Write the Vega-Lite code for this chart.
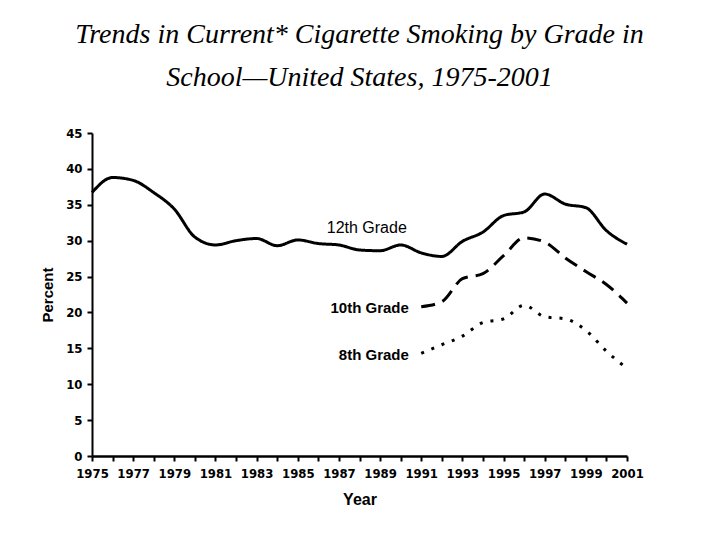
{
  "$schema": "https://vega.github.io/schema/vega-lite/v6.json",
  "autosize": "none",
  "width": 535,
  "height": 323,
  "padding": {"left": 92, "top": 133, "right": 93, "bottom": 84},
  "background": "white",
  "config": {"view": {"stroke": null}},
  "title": {
    "text": ["Trends in Current* Cigarette Smoking by Grade in", "School\u2014United States, 1975-2001"],
    "font": "Liberation Serif",
    "fontStyle": "italic",
    "fontWeight": "normal",
    "fontSize": 28,
    "lineHeight": 43,
    "color": "black",
    "anchor": "middle",
    "offset": 35
  },
  "datasets": {
    "smoking": [
      {"year": 1975, "grade": "12th Grade", "pct": 36.7},
      {"year": 1976, "grade": "12th Grade", "pct": 38.8},
      {"year": 1977, "grade": "12th Grade", "pct": 38.4},
      {"year": 1978, "grade": "12th Grade", "pct": 36.7},
      {"year": 1979, "grade": "12th Grade", "pct": 34.4},
      {"year": 1980, "grade": "12th Grade", "pct": 30.5},
      {"year": 1981, "grade": "12th Grade", "pct": 29.4},
      {"year": 1982, "grade": "12th Grade", "pct": 30.0},
      {"year": 1983, "grade": "12th Grade", "pct": 30.3},
      {"year": 1984, "grade": "12th Grade", "pct": 29.3},
      {"year": 1985, "grade": "12th Grade", "pct": 30.1},
      {"year": 1986, "grade": "12th Grade", "pct": 29.6},
      {"year": 1987, "grade": "12th Grade", "pct": 29.4},
      {"year": 1988, "grade": "12th Grade", "pct": 28.7},
      {"year": 1989, "grade": "12th Grade", "pct": 28.6},
      {"year": 1990, "grade": "12th Grade", "pct": 29.4},
      {"year": 1991, "grade": "12th Grade", "pct": 28.3},
      {"year": 1992, "grade": "12th Grade", "pct": 27.8},
      {"year": 1993, "grade": "12th Grade", "pct": 29.9},
      {"year": 1994, "grade": "12th Grade", "pct": 31.2},
      {"year": 1995, "grade": "12th Grade", "pct": 33.5},
      {"year": 1996, "grade": "12th Grade", "pct": 34.0},
      {"year": 1997, "grade": "12th Grade", "pct": 36.5},
      {"year": 1998, "grade": "12th Grade", "pct": 35.1},
      {"year": 1999, "grade": "12th Grade", "pct": 34.6},
      {"year": 2000, "grade": "12th Grade", "pct": 31.4},
      {"year": 2001, "grade": "12th Grade", "pct": 29.5},
      {"year": 1991, "grade": "10th Grade", "pct": 20.8},
      {"year": 1992, "grade": "10th Grade", "pct": 21.5},
      {"year": 1993, "grade": "10th Grade", "pct": 24.7},
      {"year": 1994, "grade": "10th Grade", "pct": 25.4},
      {"year": 1995, "grade": "10th Grade", "pct": 27.9},
      {"year": 1996, "grade": "10th Grade", "pct": 30.4},
      {"year": 1997, "grade": "10th Grade", "pct": 29.8},
      {"year": 1998, "grade": "10th Grade", "pct": 27.6},
      {"year": 1999, "grade": "10th Grade", "pct": 25.7},
      {"year": 2000, "grade": "10th Grade", "pct": 23.9},
      {"year": 2001, "grade": "10th Grade", "pct": 21.3},
      {"year": 1991, "grade": "8th Grade", "pct": 14.3},
      {"year": 1992, "grade": "8th Grade", "pct": 15.5},
      {"year": 1993, "grade": "8th Grade", "pct": 16.7},
      {"year": 1994, "grade": "8th Grade", "pct": 18.6},
      {"year": 1995, "grade": "8th Grade", "pct": 19.1},
      {"year": 1996, "grade": "8th Grade", "pct": 21.0},
      {"year": 1997, "grade": "8th Grade", "pct": 19.4},
      {"year": 1998, "grade": "8th Grade", "pct": 19.1},
      {"year": 1999, "grade": "8th Grade", "pct": 17.5},
      {"year": 2000, "grade": "8th Grade", "pct": 14.6},
      {"year": 2001, "grade": "8th Grade", "pct": 12.2}
    ],
    "labels": [
      {"grade": "12th Grade", "year": 1990.3, "pct": 31.7},
      {"grade": "10th Grade", "year": 1990.4, "pct": 20.6},
      {"grade": "8th Grade", "year": 1990.4, "pct": 14.1}
    ]
  },
  "encoding": {
    "x": {
      "field": "year", "type": "quantitative",
      "scale": {"domain": [1975, 2001], "nice": false, "zero": false},
      "axis": {
        "title": "Year",
        "values": [1975,1976,1977,1978,1979,1980,1981,1982,1983,1984,1985,1986,1987,1988,1989,1990,1991,1992,1993,1994,1995,1996,1997,1998,1999,2000,2001],
        "labelExpr": "datum.value % 2 == 1 ? datum.label : ''",
        "format": "d",
        "grid": false,
        "domainColor": "black", "domainWidth": 2.5,
        "tickColor": "black", "tickWidth": 2, "tickSize": 5,
        "labelFont": "DejaVu Sans Condensed, Liberation Sans", "labelFontWeight": "bold", "labelFontSize": 13, "labelColor": "black",
        "labelPadding": 6, "labelOverlap": false, "labelFlush": false,
        "titleFont": "Liberation Sans", "titleFontWeight": "bold", "titleFontSize": 16, "titleColor": "black",
        "titlePadding": 11
      }
    },
    "y": {
      "field": "pct", "type": "quantitative",
      "scale": {"domain": [0, 45], "nice": false},
      "axis": {
        "title": "Percent",
        "values": [0,5,10,15,20,25,30,35,40,45],
        "grid": false,
        "domainColor": "black", "domainWidth": 2,
        "tickColor": "black", "tickWidth": 2, "tickSize": 5,
        "labelFont": "DejaVu Sans Condensed, Liberation Sans", "labelFontWeight": "bold", "labelFontSize": 13, "labelColor": "black",
        "labelPadding": 5, "labelOverlap": false,
        "titleFont": "Liberation Sans", "titleFontWeight": "bold", "titleFontSize": 15, "titleColor": "black",
        "titlePadding": 10
      }
    }
  },
  "layer": [
    {
      "data": {"name": "smoking"},
      "mark": {"type": "line", "interpolate": "monotone", "color": "black", "strokeWidth": 3, "strokeCap": "butt"},
      "encoding": {
        "detail": {"field": "grade"},
        "strokeDash": {
          "field": "grade", "type": "nominal",
          "scale": {"domain": ["12th Grade", "10th Grade", "8th Grade"], "range": [[1, 0], [14, 8], [3, 8]]},
          "legend": null
        }
      }
    },
    {
      "data": {"name": "labels"},
      "transform": [{"filter": "datum.grade == '12th Grade'"}],
      "mark": {"type": "text", "align": "right", "baseline": "middle", "font": "Liberation Sans", "fontWeight": "normal", "fontSize": 16, "color": "black"},
      "encoding": {
        "text": {"field": "grade"}
      }
    },
    {
      "data": {"name": "labels"},
      "transform": [{"filter": "datum.grade != '12th Grade'"}],
      "mark": {"type": "text", "align": "right", "baseline": "middle", "font": "Liberation Sans", "fontWeight": "bold", "fontSize": 15, "color": "black"},
      "encoding": {
        "text": {"field": "grade"}
      }
    }
  ]
}
